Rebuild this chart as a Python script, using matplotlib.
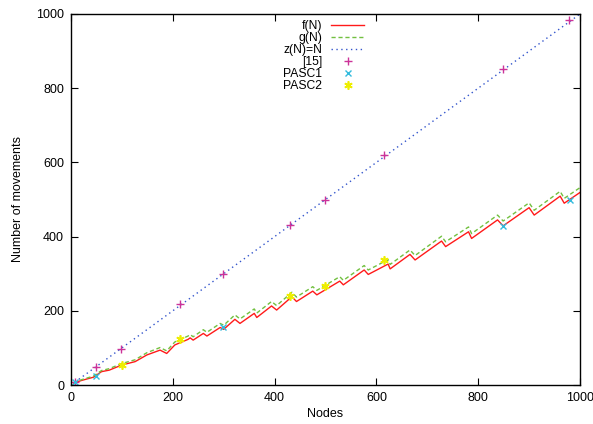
#!/usr/bin/env python3
# -*- coding: utf-8 -*-

import numpy as np
from matplotlib import pyplot as plt

# f(N) and g(N) vertices (sawtooth)
f_nodes = [5, 20, 44, 60, 75, 100, 126, 149, 175, 188, 204, 230, 234, 240,
           260, 267, 293, 300, 322, 332, 360, 365, 394, 404, 434, 443, 475,
           483, 528, 535, 576, 584, 623, 627, 666, 676, 728, 736, 781, 787,
           838, 849, 900, 910, 961, 969, 1000]
f_moves = [5, 12, 21, 36, 40, 54, 63, 81, 94, 85, 108, 123, 127, 121,
           139, 132, 155, 150, 177, 166, 193, 182, 213, 202, 238, 225, 253,
           243, 280, 270, 310, 298, 326, 313, 352, 337, 388, 373, 413, 395,
           445, 429, 478, 458, 509, 490, 519]
g_moves = [5, 14, 24, 39, 44, 58, 68, 87, 101, 92, 116, 132, 136, 130,
           149, 142, 166, 161, 189, 178, 205, 194, 225, 214, 250, 237, 265,
           255, 292, 282, 322, 310, 338, 325, 364, 349, 401, 386, 426, 408,
           458, 442, 491, 471, 522, 503, 532]

# z(N) = N
z_nodes = [0, 1000]

ref15_nodes = [8, 49, 98, 215, 299, 430, 499, 615, 849, 979]
ref15_moves = [9, 49, 97, 218, 298, 431, 499, 620, 852, 984]
pasc1_nodes = [8, 49, 298, 849, 980]
pasc1_moves = [9, 24, 155, 429, 500]
pasc2_nodes = [100, 215, 430, 499, 614]
pasc2_moves = [54, 123, 240, 267, 337]

plt.rcParams["font.family"] = ["Liberation Sans", "DejaVu Sans"]
plt.rcParams["font.size"] = 9

fig = plt.figure(figsize=(5.93, 4.24), dpi=100)
ax = fig.add_axes([71 / 593, 1 - 385 / 424, 509 / 593, 371 / 424])

ax.plot(f_nodes, f_moves, color="#ff1a1a", lw=1.0, label="f(N)")
ax.plot(f_nodes, g_moves, color="#72c040", lw=1.0, ls=(0, (3, 2)), label="g(N)")
ax.plot(z_nodes, z_nodes, color="#3355cc", lw=1.0, ls=(0, (1, 2.5)), label="z(N)=N")
ax.plot(ref15_nodes, ref15_moves, ls="none", marker="+", ms=6, mew=1.0,
        color="#cc3399", label="[15]")
ax.plot(pasc1_nodes, pasc1_moves, ls="none", marker="x", ms=5, mew=1.0,
        color="#33bbdd", label="PASC1")
ax.plot(pasc2_nodes, pasc2_moves, ls="none", marker=(6, 2, 0), ms=6, mew=1.2,
        color="#eeee00", label="PASC2")

ax.set_xlim(0, 1000)
ax.set_ylim(0, 1000)
ax.set_xticks(np.arange(0, 1001, 200))
ax.set_yticks(np.arange(0, 1001, 200))
ax.tick_params(direction="in", length=5, width=0.8, top=True, right=True,
               labelsize=9, pad=5)
for s in ax.spines.values():
    s.set_linewidth(1.0)

ax.set_xlabel("Nodes", labelpad=3)
ax.set_ylabel("Number of movements", labelpad=9)

fig.legend(loc="upper right", bbox_to_anchor=(364 / 593, 1 - 20 / 424),
           bbox_transform=fig.transFigure, frameon=False, markerfirst=False,
           borderpad=0, borderaxespad=0, handlelength=2.7, handletextpad=0.75,
           labelspacing=0.0, numpoints=1, fontsize=8.7)

fig.savefig("out.png", dpi=100)
